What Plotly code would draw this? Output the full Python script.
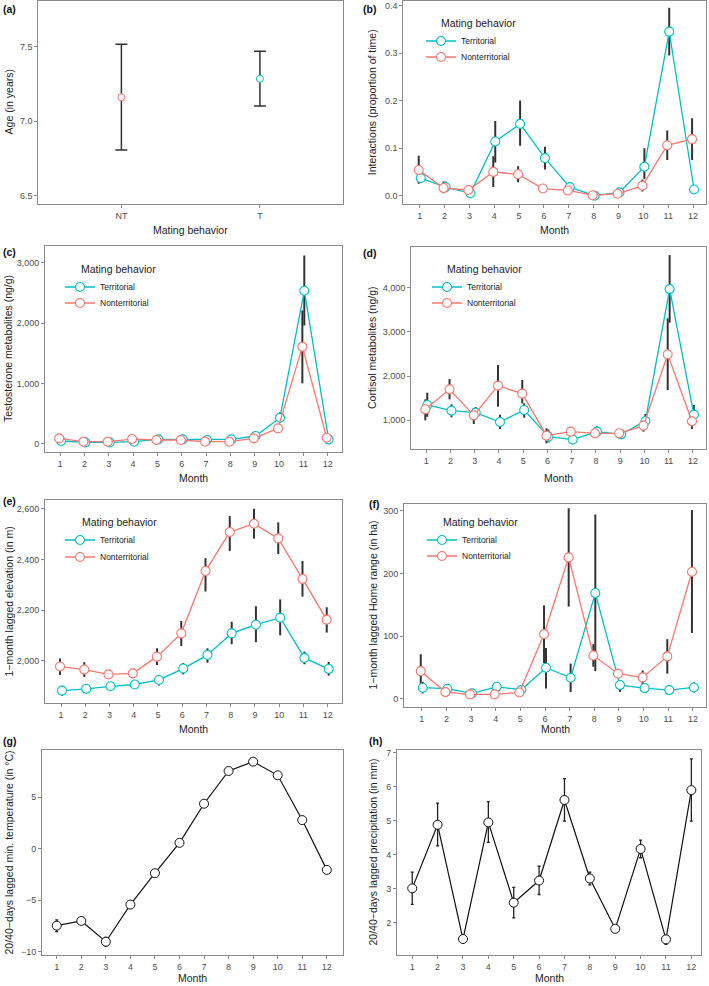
import plotly.graph_objects as go

W, H = 709, 986

# ---------------- DATA ----------------
months = list(range(1, 13))
month_labels = [str(m) for m in months]

behaviors = ["NT", "T"]
age_mean = [7.16, 7.285]
age_lo = [6.807, 7.101]
age_hi = [7.516, 7.469]

# (b) interactions (proportion of time)
int_terr = [0.037, 0.018, 0.005, 0.114, 0.151, 0.079, 0.018, 0.0, 0.007, 0.061, 0.345, 0.013]
int_terr_lo = [0.027, 0.008, 0.001, 0.070, 0.105, 0.055, 0.010, 0.0, 0.003, 0.035, 0.295, 0.008]
int_terr_hi = [0.050, 0.030, 0.010, 0.157, 0.200, 0.103, 0.027, 0.002, 0.011, 0.100, 0.395, 0.018]
int_nonterr = [0.054, 0.016, 0.012, 0.050, 0.045, 0.015, 0.011, 0.001, 0.004, 0.021, 0.106, 0.119]
int_nonterr_lo = [0.025, 0.005, 0.004, 0.018, 0.028, 0.006, 0.002, 0.0, 0.001, 0.009, 0.075, 0.075]
int_nonterr_hi = [0.084, 0.030, 0.022, 0.083, 0.062, 0.024, 0.020, 0.003, 0.008, 0.034, 0.137, 0.163]

# (c) testosterone metabolites (ng/g)
tes_terr = [44, 22, 22, 33, 72, 72, 61, 72, 127, 431, 2536, 72]
tes_terr_lo = [30, 12, 12, 22, 55, 58, 48, 58, 100, 350, 1960, 55]
tes_terr_hi = [58, 32, 32, 45, 90, 86, 74, 86, 155, 520, 3120, 90]
tes_nonterr = [88, 33, 33, 77, 61, 61, 33, 33, 88, 254, 1608, 99]
tes_nonterr_lo = [70, 22, 22, 60, 48, 48, 22, 22, 70, 220, 1000, 80]
tes_nonterr_hi = [106, 44, 44, 94, 75, 75, 44, 44, 106, 290, 2210, 118]

# (d) cortisol metabolites (ng/g)
cor_terr = [1347, 1219, 1173, 962, 1234, 631, 563, 744, 683, 985, 3969, 1128]
cor_terr_lo = [1080, 1068, 1060, 804, 1060, 500, 520, 650, 590, 830, 3208, 960]
cor_terr_hi = [1625, 1362, 1300, 1128, 1384, 790, 610, 860, 780, 1143, 4738, 1347]
cor_nonterr = [1249, 1701, 1113, 1784, 1603, 653, 744, 706, 706, 879, 2492, 977]
cor_nonterr_lo = [1000, 1475, 917, 1309, 1384, 480, 680, 620, 640, 744, 1686, 804]
cor_nonterr_hi = [1475, 1934, 1279, 2250, 1912, 820, 834, 800, 780, 932, 3306, 1008]

# (e) 1-month lagged elevation (m)
ele_terr = [1883, 1890, 1900, 1907, 1925, 1970, 2024, 2109, 2143, 2171, 2012, 1968]
ele_terr_lo = [1863, 1872, 1888, 1893, 1903, 1947, 1993, 2066, 2074, 2101, 1987, 1942]
ele_terr_hi = [1901, 1908, 1912, 1918, 1942, 1992, 2050, 2155, 2216, 2243, 2037, 1996]
ele_nonterr = [1978, 1966, 1947, 1951, 2017, 2109, 2355, 2509, 2542, 2484, 2324, 2163]
ele_nonterr_lo = [1945, 1937, 1930, 1932, 1984, 2059, 2274, 2434, 2483, 2422, 2254, 2112]
ele_nonterr_hi = [2010, 1995, 1964, 1968, 2050, 2158, 2406, 2572, 2601, 2547, 2395, 2212]

# (f) 1-month lagged home range (ha)
hr_terr = [17.6, 16, 8.5, 19, 14.4, 49.5, 33.5, 168.6, 21.8, 17, 13.8, 18]
hr_terr_lo = [8.5, 11, 5, 13, 10, 16.5, 10.6, 44, 11, 12, 9, 10]
hr_terr_hi = [27, 21, 12, 25, 19, 81, 56, 294, 30, 22, 18, 26]
hr_nonterr = [44, 10.6, 6.9, 6.9, 10, 103, 225.5, 69, 40, 34, 67.5, 202.6]
hr_nonterr_lo = [17.6, 7, 4, 4, 7, 57, 147, 51, 33, 23, 40, 105]
hr_nonterr_hi = [71, 14, 10, 10, 13, 149, 304, 87, 47, 45, 95, 301]

# (g) 20/40-days lagged min. temperature (°C)
temp = [-7.47, -7.01, -9.03, -5.42, -2.37, 0.58, 4.38, 7.56, 8.47, 7.14, 2.79, -2.05]
temp_lo = [-8.05, -7.11, -9.45, -5.75, -2.45, 0.50, 4.30, 7.48, 8.39, 7.06, 2.70, -2.13]
temp_hi = [-6.90, -6.91, -8.60, -5.10, -2.29, 0.66, 4.46, 7.64, 8.55, 7.22, 2.88, -1.97]

# (h) 20/40-days lagged precipitation (mm)
prec = [3.00, 4.87, 1.51, 4.94, 2.58, 3.23, 5.60, 3.29, 1.81, 4.16, 1.50, 5.89]
prec_lo = [2.53, 4.25, 1.45, 4.35, 2.13, 2.82, 4.98, 3.10, 1.76, 3.90, 1.35, 4.98]
prec_hi = [3.48, 5.51, 1.57, 5.55, 3.03, 3.65, 6.23, 3.48, 1.86, 4.42, 1.60, 6.81]

# tick labels
age_ticks = [6.5, 7.0, 7.5]
int_ticks = [0.0, 0.1, 0.2, 0.3, 0.4]
tes_ticks = [0, 1000, 2000, 3000]
cor_ticks = [1000, 2000, 3000, 4000]
ele_ticks = [2000, 2200, 2400, 2600]
hr_ticks = [0, 100, 200, 300]
temp_ticks = [-10, -5, 0, 5]
prec_ticks = [2, 3, 4, 5, 6, 7]

series_names = ["Territorial", "Nonterritorial"]
legend_title = "Mating behavior"

# ---------------- STYLE / LAYOUT ----------------
TEAL = "#00BFC4"
SALMON = "#F8766D"
ERRC = "#333333"
FRAME = "#8a8a8a"
TICKC = "#4d4d4d"
TEXTC = "#222222"
FONT = "Liberation Sans, Arial, Helvetica, sans-serif"
DODGE = 0.04

def X(px):
    return px / W

def Y(py):
    return 1 - py / H

# panel boxes in pixel coords (x0, y0, x1, y1) and axis ranges
panels = [
    dict(key="a", box=(38.3, 0.5, 343, 204.3), xr=(-0.6, 1.6), yr=(6.442, 7.81),
         ytitle="Age (in years)", xtitle="Mating behavior", xt_y=230, yt_x=9,
         lab_xy=(1, 9), fmt=".1f"),
    dict(key="b", box=(403.3, 0.5, 706, 204), xr=(0.34, 12.52), yr=(-0.0175, 0.4105),
         ytitle="Interactions (proportion of time)", xtitle="Month", xt_y=230, yt_x=372,
         lab_xy=(361, 9), fmt=".1f", leg=(461, 23, 41, 57, 439)),
    dict(key="c", box=(45, 246, 342, 452), xr=(0.38, 12.59), yr=(-138, 3277),
         ytitle="Testosterone metabolites (ng/g)", xtitle="Month", xt_y=478, yt_x=8,
         lab_xy=(1, 252), fmt=",", leg=(100, 269, 287, 303, 79)),
    dict(key="d", box=(411, 247, 706, 449), xr=(0.37, 12.54), yr=(351, 4921),
         ytitle="Cortisol metabolites (ng/g)", xtitle="Month", xt_y=478, yt_x=372,
         lab_xy=(361, 253), fmt=",", leg=(467, 269, 287, 303, 445)),
    dict(key="e", box=(45, 500, 342, 703), xr=(0.34, 12.59), yr=(1834, 2635.5),
         ytitle="1\u2212month lagged elevation (in m)", xtitle="Month", xt_y=729, yt_x=8,
         lab_xy=(1, 501), fmt=",", leg=(100, 522, 540, 557, 80)),
    dict(key="f", box=(404, 504, 706, 707), xr=(0.28, 12.53), yr=(-13.2, 310.7),
         ytitle="1\u2212month lagged Home range (in ha)", xtitle="Month", xt_y=729, yt_x=372,
         lab_xy=(367, 504), fmt="", leg=(462, 522, 540, 556, 441)),
    dict(key="g", box=(42, 750, 343, 955), xr=(0.4, 12.66), yr=(-10.32, 9.6),
         ytitle="20/40\u2212days lagged min. temperature (in \u00b0C)", xtitle="Month", xt_y=978, yt_x=8,
         lab_xy=(1, 741), fmt=""),
    dict(key="h", box=(397, 750, 701, 955), xr=(0.4, 12.38), yr=(1.04, 7.07),
         ytitle="20/40\u2212days lagged precipitation (in mm)", xtitle="Month", xt_y=978, yt_x=372,
         lab_xy=(367, 741), fmt=""),
]

ytick_sets = {"a": age_ticks, "b": int_ticks, "c": tes_ticks, "d": cor_ticks,
              "e": ele_ticks, "f": hr_ticks, "g": temp_ticks, "h": prec_ticks}

paired = {
    "b": (int_terr, int_terr_lo, int_terr_hi, int_nonterr, int_nonterr_lo, int_nonterr_hi),
    "c": (tes_terr, tes_terr_lo, tes_terr_hi, tes_nonterr, tes_nonterr_lo, tes_nonterr_hi),
    "d": (cor_terr, cor_terr_lo, cor_terr_hi, cor_nonterr, cor_nonterr_lo, cor_nonterr_hi),
    "e": (ele_terr, ele_terr_lo, ele_terr_hi, ele_nonterr, ele_nonterr_lo, ele_nonterr_hi),
    "f": (hr_terr, hr_terr_lo, hr_terr_hi, hr_nonterr, hr_nonterr_lo, hr_nonterr_hi),
}
single = {"g": (temp, temp_lo, temp_hi), "h": (prec, prec_lo, prec_hi)}

fig = go.Figure()
layout = dict(
    width=W, height=H, margin=dict(l=0, r=0, t=0, b=0),
    paper_bgcolor="white", plot_bgcolor="white",
    font=dict(family=FONT, color=TEXTC),
    annotations=[],
)

def err(vals, lo, hi):
    return dict(type="data", symmetric=False,
                array=[h - v for v, h in zip(vals, hi)],
                arrayminus=[v - l for v, l in zip(vals, lo)])

legend_count = 0

def next_legend():
    global legend_count
    legend_count += 1
    return "legend" if legend_count == 1 else "legend%d" % legend_count

for i, p in enumerate(panels):
    n = "" if i == 0 else str(i + 1)
    xa, ya = "x" + n, "y" + n
    x0, y0, x1, y1 = p["box"]
    key = p["key"]

    ax_common = dict(showline=True, mirror=True, linecolor=FRAME, linewidth=1,
                     ticks="outside", ticklen=3, tickwidth=1, tickcolor=FRAME,
                     tickfont=dict(size=9, color=TICKC, family=FONT),
                     showgrid=False, zeroline=False, automargin=False, fixedrange=True)
    if key == "a":
        xt = dict(tickvals=[0, 1], ticktext=behaviors)
    else:
        xt = dict(tickvals=months, ticktext=month_labels)
    layout["xaxis" + n] = dict(domain=[X(x0), X(x1)], range=list(p["xr"]), anchor=ya, **xt, **ax_common)
    layout["yaxis" + n] = dict(domain=[Y(y1), Y(y0)], range=list(p["yr"]), anchor=xa,
                               tickvals=ytick_sets[key], tickformat=p["fmt"], **ax_common)

    # axis titles and panel label
    layout["annotations"].append(dict(text=p["xtitle"], x=X((x0 + x1) / 2), y=Y(p["xt_y"]),
                                      xref="paper", yref="paper", showarrow=False,
                                      xanchor="center", yanchor="middle",
                                      font=dict(size=10.5, color=TEXTC)))
    layout["annotations"].append(dict(text=p["ytitle"], x=X(p["yt_x"]), y=Y((y0 + y1) / 2),
                                      xref="paper", yref="paper", showarrow=False, textangle=-90,
                                      xanchor="center", yanchor="middle",
                                      font=dict(size=10.5, color=TEXTC)))
    layout["annotations"].append(dict(text="<b>(%s)</b>" % key, x=X(p["lab_xy"][0]), y=Y(p["lab_xy"][1]),
                                      xref="paper", yref="paper", showarrow=False,
                                      xanchor="left", yanchor="middle",
                                      font=dict(size=10.5, color="#111111")))

    if key == "a":
        cols = [SALMON, TEAL]
        fig.add_trace(go.Scatter(x=[0, 1], y=age_mean, mode="markers", xaxis=xa, yaxis=ya,
                                 error_y=dict(err(age_mean, age_lo, age_hi), color=ERRC, thickness=1.5, width=6),
                                 marker=dict(size=7, color="white", line=dict(color=cols, width=1)),
                                 showlegend=False))
    elif key in paired:
        tv, tl, th, nv, nl, nh = paired[key]
        xs_t = [m + DODGE for m in months]
        xs_n = [m - DODGE for m in months]
        # error bars first (beneath)
        for xs, v, l, h in ((xs_t, tv, tl, th), (xs_n, nv, nl, nh)):
            fig.add_trace(go.Scatter(x=xs, y=v, mode="markers", xaxis=xa, yaxis=ya,
                                     marker=dict(size=1, color="rgba(0,0,0,0)"),
                                     error_y=dict(err(v, l, h), color=ERRC, thickness=2, width=0),
                                     showlegend=False, hoverinfo="skip"))
        tx, ty_title, ty1, ty2, title_x = p["leg"]
        for xs, v, col, nm, iy in ((xs_t, tv, TEAL, series_names[0], ty1),
                                   (xs_n, nv, SALMON, series_names[1], ty2)):
            lg = next_legend()
            fig.add_trace(go.Scatter(x=xs, y=v, mode="lines+markers", name=nm, xaxis=xa, yaxis=ya,
                                     line=dict(color=col, width=1.3),
                                     marker=dict(size=9, color="white", line=dict(color=col, width=1.1)),
                                     legend=lg))
            layout[lg] = dict(x=X(tx - 40), y=Y(iy), xanchor="left", yanchor="middle",
                              bgcolor="rgba(0,0,0,0)", borderwidth=0,
                              font=dict(size=8.5, color=TEXTC, family=FONT))
        layout["annotations"].append(dict(text=legend_title, x=X(title_x), y=Y(ty_title),
                                          xref="paper", yref="paper", showarrow=False,
                                          xanchor="left", yanchor="middle",
                                          font=dict(size=10.5, color=TEXTC)))
    else:
        v, l, h = single[key]
        fig.add_trace(go.Scatter(x=months, y=v, mode="markers", xaxis=xa, yaxis=ya,
                                 marker=dict(size=1, color="rgba(0,0,0,0)"),
                                 error_y=dict(err(v, l, h), color="#222222", thickness=1.3, width=1.5),
                                 showlegend=False, hoverinfo="skip"))
        fig.add_trace(go.Scatter(x=months, y=v, mode="lines+markers", xaxis=xa, yaxis=ya,
                                 line=dict(color="#111111", width=1.2),
                                 marker=dict(size=9, color="white", line=dict(color="#111111", width=1)),
                                 showlegend=False))

fig.update_layout(**layout)
fig.write_html(
    "out.html",
    config={"displayModeBar": False, "responsive": False},
    post_script="document.body.style.margin='0';document.body.style.padding='0';"
                "document.body.style.overflow='hidden';"
                "document.documentElement.style.overflow='hidden';",
)
